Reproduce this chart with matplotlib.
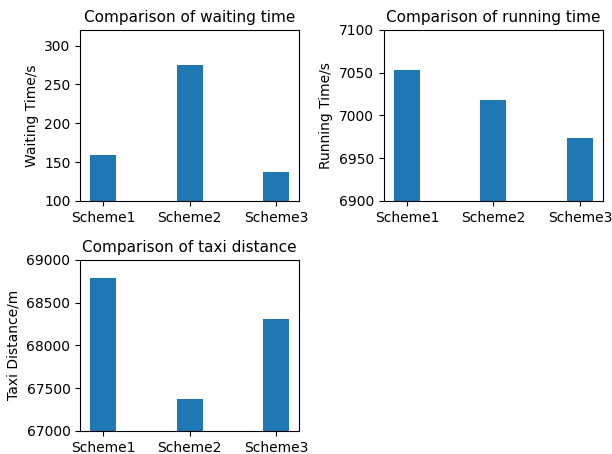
import numpy as np
import matplotlib.pyplot as plt

schemes = ["Scheme1", "Scheme2", "Scheme3"]
waiting = [159, 275, 137]
running = [7053, 7018, 6974]
distance = [68790, 67375, 68305]


def bar_panel(ax, values, ylabel, title, ylim):
    x = np.arange(len(schemes))
    ax.bar(x, values, width=0.3, color="#1f77b4")
    ax.set_xticks(x)
    ax.set_xticklabels(schemes)
    ax.set_ylim(*ylim)
    ax.set_ylabel(ylabel)
    ax.set_title(title, fontsize=11)


fig, axes = plt.subplots(2, 2, figsize=(6.12, 4.54), dpi=100)
fig.subplots_adjust(left=0.131, right=0.985, top=0.934, bottom=0.051,
                    wspace=0.388, hspace=0.345)

bar_panel(axes[0, 0], waiting, "Waiting Time/s", "Comparison of waiting time", (100, 320))
bar_panel(axes[0, 1], running, "Running Time/s", "Comparison of running time", (6900, 7100))
bar_panel(axes[1, 0], distance, "Taxi Distance/m", "Comparison of taxi distance", (67000, 69000))
axes[1, 1].axis("off")

fig.savefig("out.png", dpi=100)
